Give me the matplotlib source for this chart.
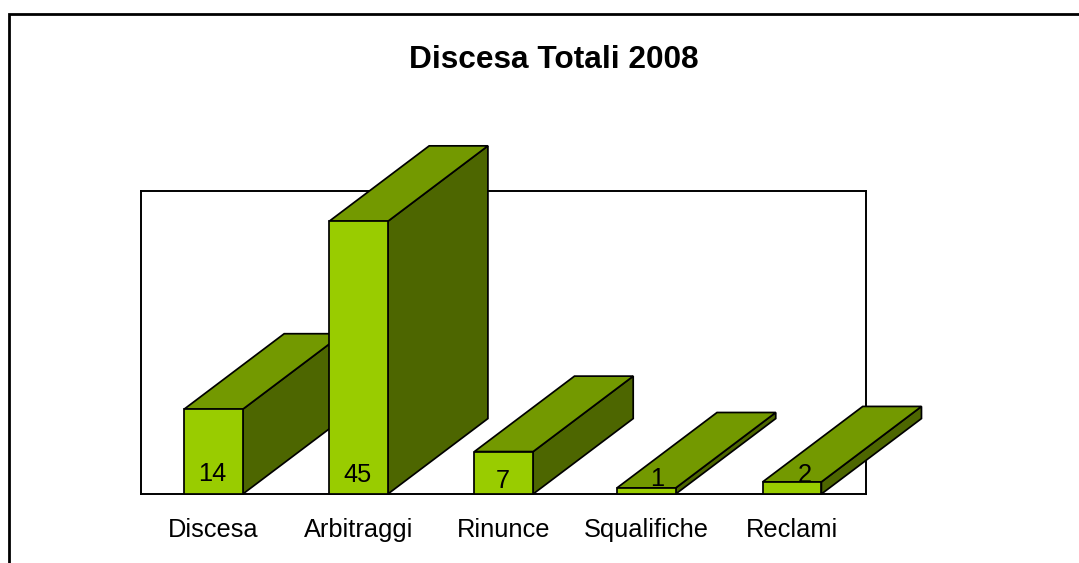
import matplotlib
matplotlib.use('Agg')
import matplotlib.pyplot as plt
from matplotlib.lines import Line2D

categories = ['Discesa', 'Arbitraggi', 'Rinunce', 'Squalifiche', 'Reclami']
values = [14, 45, 7, 1, 2]
title = 'Discesa Totali 2008'

plt.rcParams['font.family'] = ['Liberation Sans', 'DejaVu Sans']

W, H = 1079, 563
fig = plt.figure(figsize=(W / 100, H / 100), dpi=100)

# plot area, in pixels of the picture
left, right, top, bottom = 141, 866, 191, 494
ax = fig.add_axes([left / W, 1 - bottom / H, (right - left) / W, (bottom - top) / H])
ax.set_xlim(-0.5, 4.5)
ax.set_ylim(0, 50)
ax.set_yticks([])

# last bars sit a touch left of the even spacing
pos = [0, 1, 2.002, 2.985, 3.99]
ax.set_xticks(pos)
ax.set_xticklabels(categories, fontsize=18.3)
ax.tick_params(axis='x', length=0, pad=17)
for s in ax.spines.values():
    s.set_linewidth(1.4)

# the 3d look: back face is shifted by a fixed depth
bar_w = 0.405
depth_x = 0.69
depth_y = 12.45
edge = {'edgecolor': 'black', 'linewidth': 1.25, 'joinstyle': 'miter', 'clip_on': False}

for i, v in enumerate(values):
    x0 = pos[i] - bar_w / 2
    x1 = pos[i] + bar_w / 2
    z = 3 + i
    ax.fill([x1, x1 + depth_x, x1 + depth_x, x1], [0, depth_y, v + depth_y, v],
            facecolor='#4d6600', zorder=z, **edge)
    ax.fill([x0, x0 + depth_x, x1 + depth_x, x1], [v, v + depth_y, v + depth_y, v],
            facecolor='#739900', zorder=z, **edge)
    ax.bar(pos[i], v, width=bar_w, color='#99cc00', zorder=z, **edge)

# data labels are not centred the same way on each bar
label_offsets = [(-1, 14.5), (-1, 13.5), (-0.5, 9.5), (7.8, 11), (8.8, 13.5)]
for i, v in enumerate(values):
    ax.annotate(str(v), xy=(pos[i], 0), xytext=label_offsets[i], textcoords='offset points',
                ha='center', va='center', fontsize=18.3, color='black', zorder=20)

fig.text(553.5 / W, 1 - 59.5 / H, title, ha='center', va='center', fontsize=22.8, fontweight='bold')

# chart border only shows on the left and top, the rest is cut off
fig.add_artist(Line2D([9 / W, 9 / W, 1], [0, 1 - 14 / H, 1 - 14 / H], color='black', linewidth=2,
                      solid_joinstyle='miter'))

fig.savefig('out.png', dpi=100)
